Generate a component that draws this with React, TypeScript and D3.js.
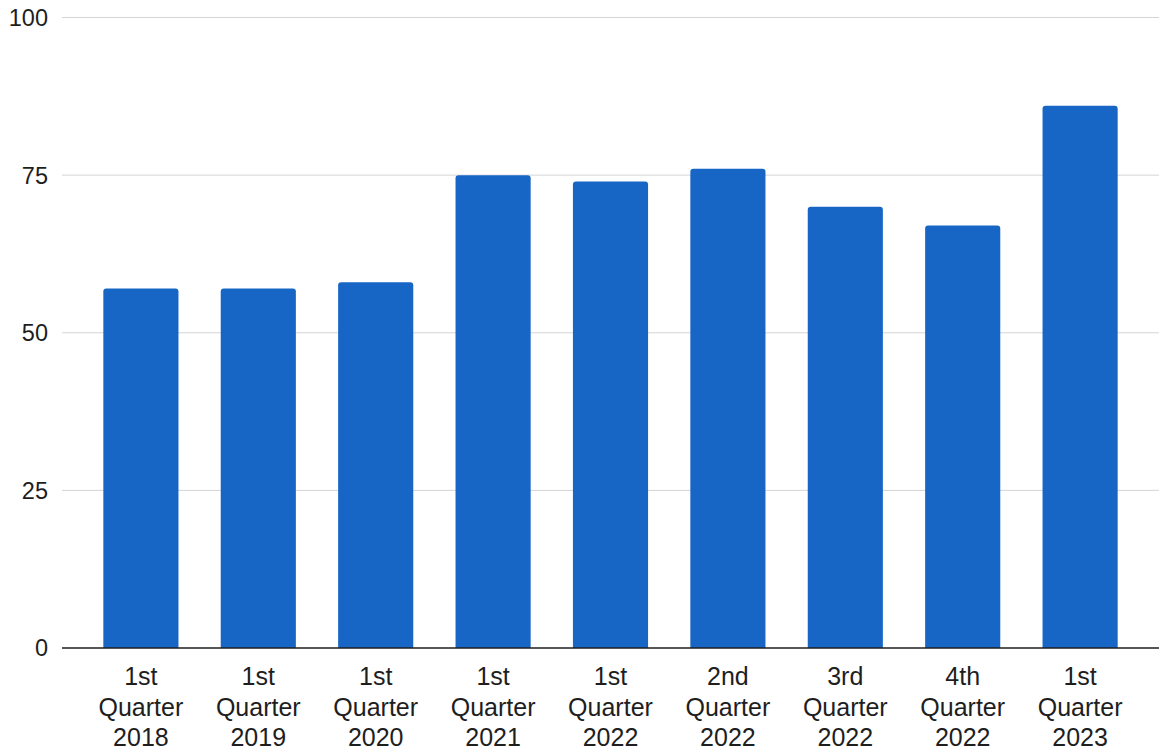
import React from "react";
import * as d3 from "d3";

const categories: string[][] = [
  ["1st", "Quarter", "2018"],
  ["1st", "Quarter", "2019"],
  ["1st", "Quarter", "2020"],
  ["1st", "Quarter", "2021"],
  ["1st", "Quarter", "2022"],
  ["2nd", "Quarter", "2022"],
  ["3rd", "Quarter", "2022"],
  ["4th", "Quarter", "2022"],
  ["1st", "Quarter", "2023"],
];
const values: number[] = [57, 57, 58, 75, 74, 76, 70, 67, 86];
const yTicks: number[] = [0, 25, 50, 75, 100];

const W = 1159;
const H = 753;
const left = 62;
const right = 1159;
const y0 = 648;
const y1 = 17.5;

export default function App() {
  const keys = categories.map((_, i) => String(i));
  const x = d3
    .scaleBand<string>()
    .domain(keys)
    .range([left, right])
    .paddingInner(0.36)
    .paddingOuter(0.352);
  const y = d3.scaleLinear().domain([0, 100]).range([y0, y1]);
  const r = 3;
  const barPath = (xs: number, w: number, top: number, bottom: number) =>
    `M${xs},${bottom}V${top + r}Q${xs},${top} ${xs + r},${top}H${xs + w - r}Q${xs + w},${top} ${xs + w},${top + r}V${bottom}Z`;
  const font = "'Liberation Sans', Arial, sans-serif";
  return (
    <svg
      width={W}
      height={H}
      style={{ position: "absolute", left: 0, top: 0, background: "#fff" }}
    >
      {yTicks.map((t) => (
        <g key={t}>
          {t !== 0 && (
            <line x1={left} x2={right} y1={y(t)} y2={y(t)} stroke="#d4d4d4" strokeWidth={1} />
          )}
          <text
            x={48}
            y={y(t)}
            dy="0.36em"
            textAnchor="end"
            fontFamily={font}
            fontSize={23.5}
            fill="#1e1e1e"
          >
            {t}
          </text>
        </g>
      ))}
      {values.map((v, i) => (
        <path
          key={i}
          d={barPath(x(String(i))!, x.bandwidth(), y(v), y(0))}
          fill="#1766c5"
        />
      ))}
      <line x1={left} x2={right} y1={y(0)} y2={y(0)} stroke="#1e1e1e" strokeWidth={1.5} />
      {categories.map((lines, i) => (
        <text
          key={i}
          x={x(String(i))! + x.bandwidth() / 2}
          textAnchor="middle"
          fontFamily={font}
          fontSize={25}
          fill="#1e1e1e"
        >
          {lines.map((l, j) => (
            <tspan key={j} x={x(String(i))! + x.bandwidth() / 2} y={685 + j * 30.5}>
              {l}
            </tspan>
          ))}
        </text>
      ))}
    </svg>
  );
}
